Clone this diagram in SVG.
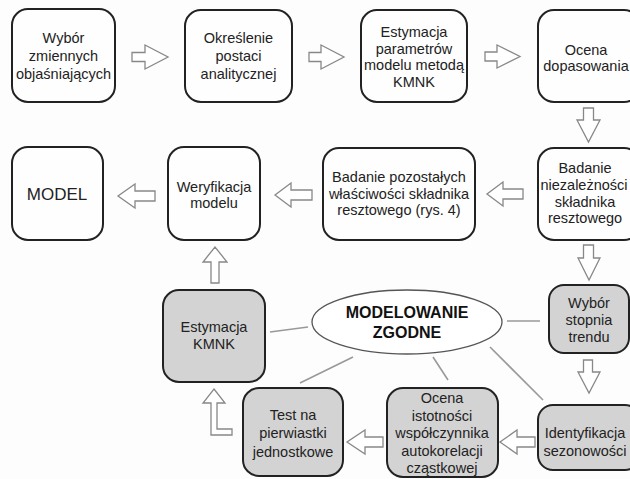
<svg xmlns="http://www.w3.org/2000/svg" width="630" height="479" viewBox="0 0 630 479">
<style>
.box{fill:#fefefe;stroke:#222;stroke-width:2}
.gbox{fill:#d3d3d3;stroke:#222;stroke-width:2}
.t{font-family:"Liberation Sans",Arial,sans-serif;font-size:14.5px;fill:#222;text-anchor:middle}
.arr{fill:#fff;stroke:#888;stroke-width:1.3;stroke-linejoin:miter}
.ln{stroke:#999;stroke-width:1.6;fill:none}
</style>
<rect x="0" y="0" width="630" height="479" fill="#fdfdfd"/>
<g id="connectors">
<polygon class="arr" points="132,52.5 145,52.5 145,45 168,57 145,69 145,61.5 132,61.5"/>
<polygon class="arr" points="309,52.5 321,52.5 321,45 344,57 321,69 321,61.5 309,61.5"/>
<polygon class="arr" points="485,52 497,52 497,45 520,56.5 497,68 497,61 485,61"/>
<polygon class="arr" points="583.5,108 593.5,108 593.5,120 600,120 588.5,142 577,120 583.5,120"/>
<polygon class="arr" points="155,191 135,191 135,184 118,196 135,208 135,201 155,201"/>
<polygon class="arr" points="312,190 291,190 291,183 275,195 291,207 291,200 312,200"/>
<polygon class="arr" points="523,189 503,189 503,182 487,194 503,206 503,199 523,199"/>
<polygon class="arr" points="583.5,245 593.5,245 593.5,258 600,258 589,280 578,258 583.5,258"/>
<polygon class="arr" points="211,283 219,283 219,262 227,262 215,247 203,262 211,262"/>
<polygon class="arr" points="583.5,360 592.5,360 592.5,372 600,372 589,393 578,372 583.5,372"/>
<polygon class="arr" points="535,437 517,437 517,430 500,442 517,454 517,447 535,447"/>
<polygon class="arr" points="383,437 365,437 365,430 347,442 365,454 365,447 383,447"/>
<polygon class="arr" points="214,389 225,403 217,403 217,429 232,429 232,435 211,435 211,403 203,403"/>
<line class="ln" x1="270" y1="332" x2="308" y2="327"/>
<line class="ln" x1="507" y1="321" x2="540" y2="321"/>
<line class="ln" x1="353" y1="357" x2="300" y2="383"/>
<line class="ln" x1="433" y1="357" x2="448" y2="380"/>
<line class="ln" x1="490" y1="347" x2="543" y2="400"/>
</g>
<g id="n1"><rect class="box" x="12" y="9" width="103" height="93" rx="16"/>
<text class="t" x="63.5" y="43">Wybór</text><text class="t" x="63.5" y="61">zmiennych</text><text class="t" x="63.5" y="79">objaśniających</text></g>
<g id="n2"><rect class="box" x="185" y="10" width="107" height="92" rx="16"/>
<text class="t" x="238.5" y="43">Określenie</text><text class="t" x="238.5" y="61">postaci</text><text class="t" x="238.5" y="79">analitycznej</text></g>
<g id="n3"><rect class="box" x="361" y="10" width="106" height="92" rx="16"/>
<text class="t" x="414" y="37">Estymacja</text><text class="t" x="414" y="53.5">parametrów</text><text class="t" x="414" y="70">modelu metodą</text><text class="t" x="414" y="86.5">KMNK</text></g>
<g id="n4"><rect class="box" x="538" y="10" width="102" height="92" rx="16"/>
<text class="t" x="586" y="55">Ocena</text><text class="t" x="586" y="71">dopasowania</text></g>
<g id="n5"><rect class="box" x="12" y="147" width="91" height="93" rx="16"/>
<text class="t" x="57" y="200" style="font-size:17px">MODEL</text></g>
<g id="n6"><rect class="box" x="168" y="147" width="92" height="93" rx="16"/>
<text class="t" x="214" y="192">Weryfikacja</text><text class="t" x="214" y="208">modelu</text></g>
<g id="n7"><rect class="box" x="323" y="148" width="152" height="92" rx="16"/>
<text class="t" x="399" y="182">Badanie pozostałych</text><text class="t" x="399" y="198.5">właściwości składnika</text><text class="t" x="399" y="215">resztowego (rys. 4)</text></g>
<g id="n8"><rect class="box" x="538" y="148" width="102" height="92" rx="16"/>
<text class="t" x="585" y="173">Badanie</text><text class="t" x="584" y="190">niezależności</text><text class="t" x="585" y="207">składnika</text><text class="t" x="585" y="223">resztowego</text></g>
<g id="n9"><rect class="gbox" x="163" y="290" width="102" height="92" rx="16"/>
<text class="t" x="214" y="332">Estymacja</text><text class="t" x="214" y="349">KMNK</text></g>
<g id="n10"><ellipse cx="407" cy="322" rx="95" ry="32" fill="#fff" stroke="#555" stroke-width="1.3"/>
<text class="t" x="407" y="318" style="font-size:16px;font-weight:bold;fill:#111">MODELOWANIE</text><text class="t" x="407" y="338" style="font-size:16px;font-weight:bold;fill:#111">ZGODNE</text></g>
<g id="n11"><rect class="gbox" x="549" y="285" width="80" height="68" rx="15"/>
<text class="t" x="589" y="308">Wybór</text><text class="t" x="589" y="325">stopnia</text><text class="t" x="589" y="342">trendu</text></g>
<g id="n12"><rect class="gbox" x="538" y="405" width="102" height="65" rx="15"/>
<text class="t" x="585" y="438">Identyfikacja</text><text class="t" x="585" y="456">sezonowości</text></g>
<g id="n13"><rect class="gbox" x="387" y="388" width="111" height="89" rx="16"/>
<text class="t" x="442" y="403">Ocena</text><text class="t" x="442" y="421">istotności</text><text class="t" x="442" y="438">współczynnika</text><text class="t" x="442" y="456">autokorelacji</text><text class="t" x="442" y="473">cząstkowej</text></g>
<g id="n14"><rect class="gbox" x="243" y="388" width="100" height="88" rx="16"/>
<text class="t" x="293" y="420">Test na</text><text class="t" x="293" y="438">pierwiastki</text><text class="t" x="293" y="457">jednostkowe</text></g>
</svg>
